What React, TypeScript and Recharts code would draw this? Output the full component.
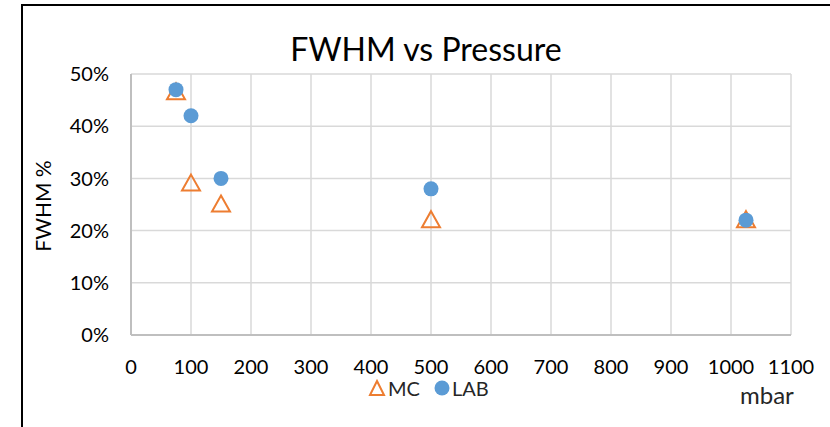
import React from 'react';
import {
    ScatterChart,
    Scatter,
    XAxis,
    YAxis,
    CartesianGrid,
} from 'recharts';

// pressure in mbar, FWHM as fraction
const mcPressure = [75, 100, 150, 500, 1025];
const mcFwhm = [0.465, 0.29, 0.25, 0.22, 0.22];
const labPressure = [75, 100, 150, 500, 1025];
const labFwhm = [0.47, 0.42, 0.30, 0.28, 0.22];

const xTicks = [0, 100, 200, 300, 400, 500, 600, 700, 800, 900, 1000, 1100];
const yTicks = [0, 0.1, 0.2, 0.3, 0.4, 0.5];

const mcData = mcPressure.map((x, i) => ({ x, y: mcFwhm[i] }));
const labData = labPressure.map((x, i) => ({ x, y: labFwhm[i] }));

const ORANGE = '#ED7D31';
const BLUE = '#5B9BD5';
const FONT = 'Lato, "Open Sans", sans-serif';

const Triangle = (props: any) => {
    const { cx, cy } = props;
    if (cx == null || cy == null) return null;
    return (
        <path
            d={`M${cx},${cy - 9} L${cx + 9},${cy + 7} L${cx - 9},${cy + 7} Z`}
            fill="none"
            stroke={ORANGE}
            strokeWidth={2}
        />
    );
};

const Dot = (props: any) => {
    const { cx, cy } = props;
    if (cx == null || cy == null) return null;
    return <circle cx={cx} cy={cy} r={7.5} fill={BLUE} />;
};

export default function App() {
    return (
        <div style={{ position: 'absolute', left: 0, top: 0, width: 830, height: 427, background: '#fff', overflow: 'hidden' }}>
            <div style={{ position: 'absolute', left: 21, top: 4, width: 830, height: 430, border: '2px solid #000', boxSizing: 'border-box' }} />
            <div style={{ position: 'absolute', left: 0, top: 29, width: 852, textAlign: 'center', fontFamily: FONT, fontSize: 32, color: '#000' }}>
                FWHM vs Pressure
            </div>
            <div style={{ position: 'absolute', left: 42, top: 206, transform: 'translate(-50%, -50%) rotate(-90deg)', fontFamily: FONT, fontSize: 21, color: '#000', whiteSpace: 'nowrap' }}>
                FWHM %
            </div>
            <div style={{ position: 'absolute', left: 740, top: 380, fontFamily: FONT, fontSize: 24, color: '#262626' }}>
                mbar
            </div>
            <div style={{ position: 'absolute', left: 368, top: 376, display: 'flex', alignItems: 'center', fontFamily: FONT, fontSize: 20, color: '#262626' }}>
                <svg width={18} height={18} style={{ marginRight: 2 }}>
                    <path d="M9,2 L16,16 L2,16 Z" fill="none" stroke={ORANGE} strokeWidth={2} />
                </svg>
                <span style={{ marginRight: 14 }}>MC</span>
                <svg width={16} height={16} style={{ marginRight: 2 }}>
                    <circle cx={8} cy={8} r={7.5} fill={BLUE} />
                </svg>
                <span>LAB</span>
            </div>
            <div style={{ position: 'absolute', left: 0, top: 0 }}>
                <ScatterChart width={830} height={427} margin={{ top: 74, right: 39, bottom: 52, left: 71 }}>
                    <CartesianGrid stroke="#d9d9d9" strokeWidth={1.5} />
                    <XAxis
                        type="number"
                        dataKey="x"
                        domain={[0, 1100]}
                        ticks={xTicks}
                        interval={0}
                        axisLine={{ stroke: '#bfbfbf', strokeWidth: 2 }}
                        tickLine={false}
                        tick={{ fill: '#000', fontSize: 20, fontFamily: FONT }}
                        tickMargin={19}
                        height={40}
                    />
                    <YAxis
                        type="number"
                        dataKey="y"
                        domain={[0, 0.5]}
                        ticks={yTicks}
                        interval={0}
                        axisLine={{ stroke: '#bfbfbf', strokeWidth: 2 }}
                        tickLine={false}
                        tick={{ fill: '#000', fontSize: 20, fontFamily: FONT }}
                        tickFormatter={(v: number) => `${Math.round(v * 100)}%`}
                        tickMargin={16}
                        width={60}
                    />
                    <Scatter name="MC" data={mcData} shape={<Triangle />} isAnimationActive={false} />
                    <Scatter name="LAB" data={labData} shape={<Dot />} isAnimationActive={false} />
                </ScatterChart>
            </div>
        </div>
    );
}
